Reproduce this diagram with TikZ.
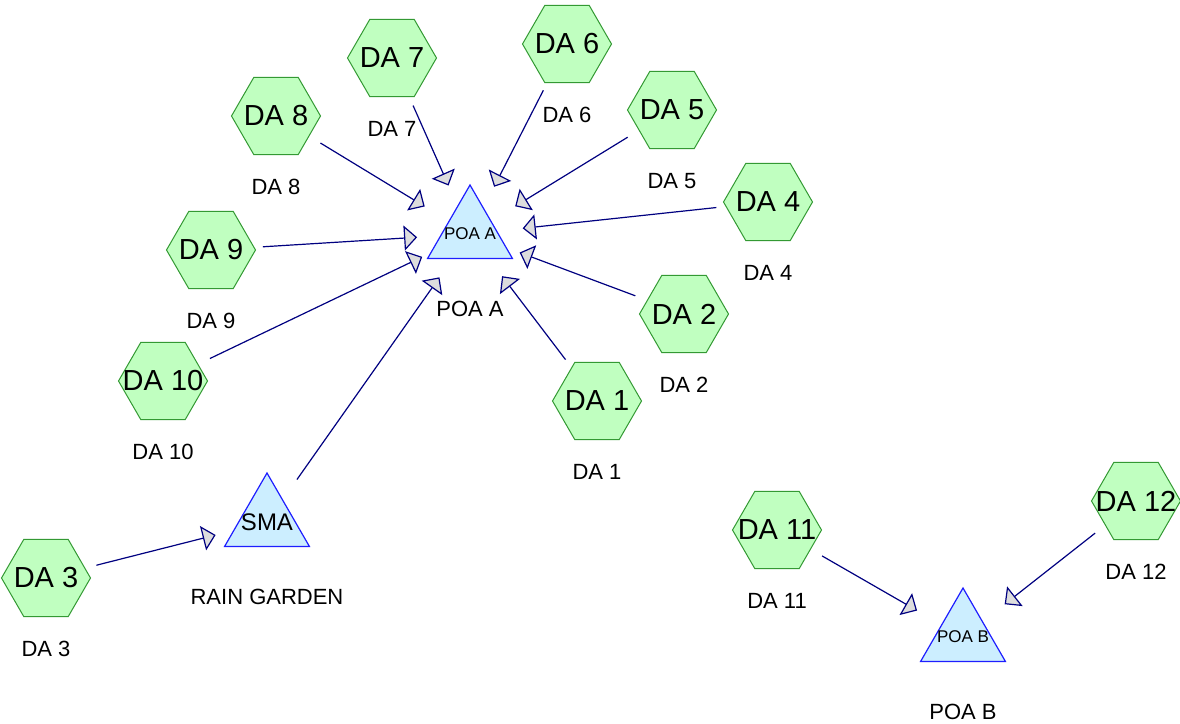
\documentclass[tikz,border=0pt]{standalone}
\usepackage{fontspec}
\setmainfont{Liberation Sans}
\usepackage{xcolor}
\usetikzlibrary{shapes.geometric, arrows.meta, positioning}

\definecolor{areafill}{RGB}{192,255,192}
\definecolor{areadraw}{RGB}{51,153,51}
\definecolor{poafill}{RGB}{204,238,255}
\definecolor{poadraw}{RGB}{30,30,255}
\definecolor{flowdraw}{RGB}{0,0,128}
\definecolor{tipfill}{RGB}{221,221,221}

\begin{document}
\begin{tikzpicture}[x=1pt, y=1pt, node distance=24pt,
    area/.style={regular polygon, regular polygon sides=6, minimum size=89pt, inner sep=0pt, draw=areadraw, fill=areafill, line width=1pt, font=\fontsize{29}{32}\selectfont},
    poa/.style={regular polygon, regular polygon sides=3, minimum size=98pt, inner sep=0pt, draw=poadraw, fill=poafill, line width=1.2pt, font=\fontsize{17}{20}\selectfont},
    caption/.style={inner sep=0pt, font=\fontsize{22}{26}\selectfont},
    flow/.style={draw=flowdraw, line width=1.2pt, -{Triangle[length=13pt, width=25pt, fill=tipfill]}, shorten <=52pt, shorten >=53pt}]
    \useasboundingbox (0,0) rectangle (1180,723);

    % Points of analysis
    \node (POAA) [poa] at (470,489) {\makebox[0pt]{POA A}};
    \node (SMA) [poa, font=\fontsize{24}{28}\selectfont] at (267,201) {\makebox[0pt]{SMA}};
    \node (POAB) [poa] at (963,86) {\makebox[0pt]{POA B}};
    \node (POAAcap) [caption, below=42pt of POAA] {POA A};
    \node (SMAcap) [caption, below=42pt of SMA] {RAIN GARDEN};
    \node (POABcap) [caption, below=42pt of POAB] {POA B};

    % Drainage areas
    \node (DA1) [area] at (597,322) {\makebox[0pt]{DA 1}};
    \node (DA2) [area] at (684,409) {\makebox[0pt]{DA 2}};
    \node (DA3) [area] at (46,145) {\makebox[0pt]{DA 3}};
    \node (DA4) [area] at (768,521) {\makebox[0pt]{DA 4}};
    \node (DA5) [area] at (672,613) {\makebox[0pt]{DA 5}};
    \node (DA6) [area] at (567,679) {\makebox[0pt]{DA 6}};
    \node (DA7) [area] at (392,665) {\makebox[0pt]{DA 7}};
    \node (DA8) [area] at (276,607) {\makebox[0pt]{DA 8}};
    \node (DA9) [area] at (211,473) {\makebox[0pt]{DA 9}};
    \node (DA10) [area] at (163,342) {\makebox[0pt]{DA 10}};
    \node (DA11) [area] at (777,193) {\makebox[0pt]{DA 11}};
    \node (DA12) [area] at (1136,222) {\makebox[0pt]{DA 12}};

    \node (DA1cap) [caption, below=of DA1] {DA 1};
    \node (DA2cap) [caption, below=of DA2] {DA 2};
    \node (DA3cap) [caption, below=of DA3] {DA 3};
    \node (DA4cap) [caption, below=of DA4] {DA 4};
    \node (DA5cap) [caption, below=of DA5] {DA 5};
    \node (DA6cap) [caption, below=of DA6] {DA 6};
    \node (DA7cap) [caption, below=of DA7] {DA 7};
    \node (DA8cap) [caption, below=of DA8] {DA 8};
    \node (DA9cap) [caption, below=of DA9] {DA 9};
    \node (DA10cap) [caption, below=of DA10] {DA 10};
    \node (DA11cap) [caption, below=of DA11] {DA 11};
    \node (DA12cap) [caption, below=of DA12] {DA 12};

    % Flows
    \foreach \da in {DA1,DA2,DA4,DA5,DA6,DA7,DA8,DA9,DA10,SMA}
        \draw [flow] (\da.center) -- (POAA.center);
    \draw [flow] (DA3.center) -- (SMA.center);
    \draw [flow] (DA11.center) -- (POAB.center);
    \draw [flow] (DA12.center) -- (POAB.center);
\end{tikzpicture}
\end{document}
